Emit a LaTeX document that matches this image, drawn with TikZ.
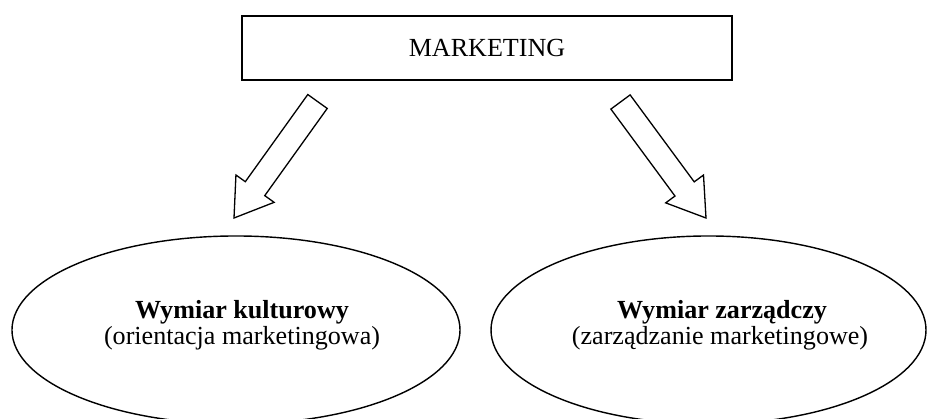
\documentclass[tikz,border=0pt]{standalone}
\usepackage{fontspec}
\setmainfont{Liberation Serif}
\usetikzlibrary{calc,shapes.geometric}

\tikzset{
  mainbox/.style={draw, line width=0.9pt, inner sep=0pt, outer sep=0pt,
    minimum width=225.4pt, minimum height=29.4pt},
  dimension/.style={draw, ellipse, line width=0.65pt, inner sep=0pt, outer sep=0pt,
    minimum height=86.5pt},
  blockarrow/.style={draw, line width=0.6pt, line join=miter},
  caption/.style={anchor=base, inner sep=0pt, font=\fontsize{12}{14}\selectfont},
}

\begin{document}
\begin{tikzpicture}[x=0.46pt, y=-0.46pt]
  \useasboundingbox (0,0) rectangle (927,419);

  % Top box
  \node[mainbox] (mkt) at (487,48) {};
  \node[caption, anchor=center] (mkttxt) at (mkt.center) {MARKETING};

  % Both dimensions
  \node[dimension, minimum width=206.1pt] (kult) at (236,330) {};
  \node[dimension, minimum width=200.1pt] (zarz) at (708.5,330) {};

  % Labels
  \node[caption] (kultA) at (242,318) {\textbf{Wymiar kulturowy}};
  \node[caption] (kultB) at (242,344) {(orientacja marketingowa)};
  \node[caption] (zarzA) at (722,318) {\textbf{Wymiar zarządczy}};
  \node[caption] (zarzB) at (720,344) {(zarządzanie marketingowe)};

  % Hollow block arrows
  \coordinate (tailL) at (317.5,101.5);
  \coordinate (tipL) at (234,218);
  \coordinate (tailR) at (620.5,102);
  \coordinate (tipR) at (706,218);
  \foreach \s in {L,R} {
    \coordinate (neck\s) at ($(tip\s)!16.6pt!(tail\s)$);
    \draw[blockarrow] ($(tail\s)!5.5pt!90:(tip\s)$)
      -- ($(neck\s)!5.5pt!-90:(tail\s)$)
      -- ($(neck\s)!10.8pt!-90:(tail\s)$)
      -- (tip\s)
      -- ($(neck\s)!10.8pt!90:(tail\s)$)
      -- ($(neck\s)!5.5pt!90:(tail\s)$)
      -- ($(tail\s)!5.5pt!-90:(tip\s)$) -- cycle;
  }
\end{tikzpicture}
\end{document}
